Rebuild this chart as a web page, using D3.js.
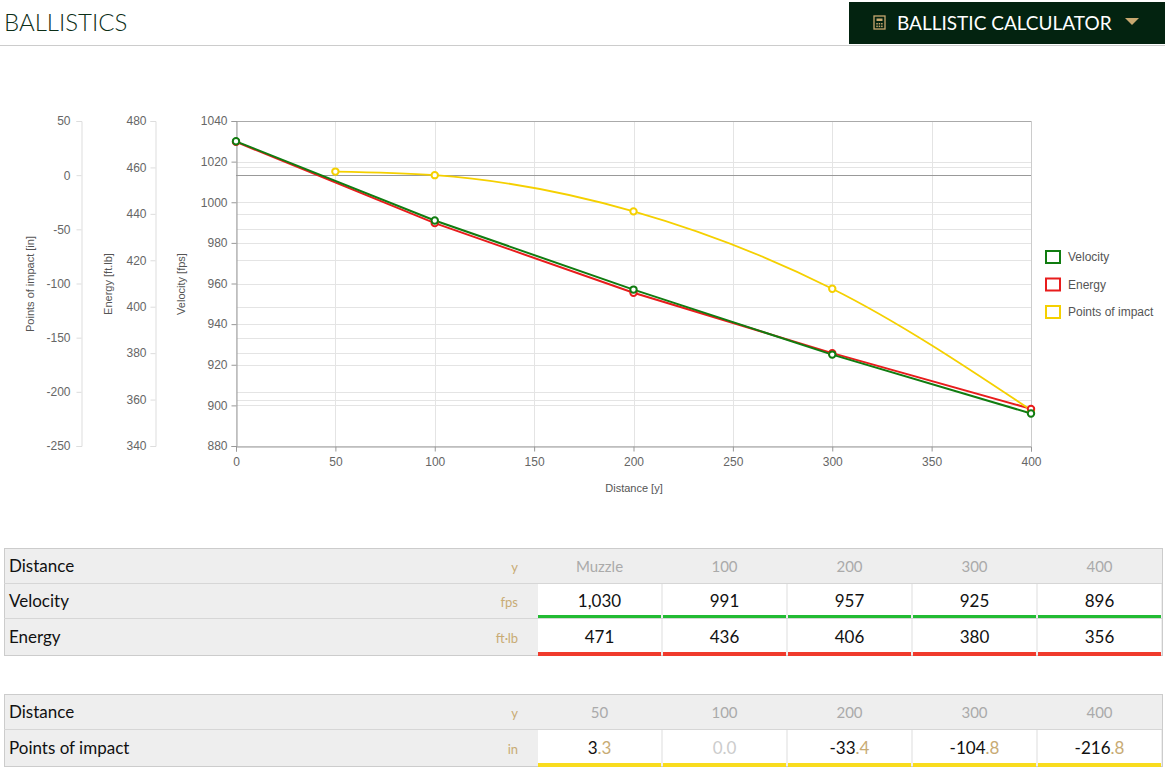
<!DOCTYPE html>
<html><head><meta charset="utf-8">
<script src="https://cdn.jsdelivr.net/npm/d3@7"></script>
<style>
body{margin:0;width:1165px;height:771px;overflow:hidden;background:#fff;font-family:Lato,"Open Sans",sans-serif;}
svg{position:absolute;left:0;top:0}
</style></head><body>
<svg id="c" width="1165" height="771"></svg>
<script>
const distances=[0,100,200,300,400];
const velocity=[1030,991,957,925,896];
const energy=[471,436,406,380,356];
const poiDistances=[50,100,200,300,400];
const poi=[3.3,0.0,-33.4,-104.8,-216.8];
const tableHeaders1=["Muzzle","100","200","300","400"];
const velocityText=["1,030","991","957","925","896"];
const energyText=["471","436","406","380","356"];
const tableHeaders2=["50","100","200","300","400"];
const poiText=[["3",".3"],["0.0",""],["-33",".4"],["-104",".8"],["-216",".8"]];

const svg=d3.select("#c");
// header
svg.append("text").attr("x",4).attr("y",31).text("BALLISTICS").attr("font-size",24).attr("font-weight",300).attr("fill","#0c2e17").attr("font-family","Lato");
svg.append("line").attr("x1",0).attr("x2",1165).attr("y1",45.5).attr("y2",45.5).attr("stroke","#ccc");
svg.append("rect").attr("x",849).attr("y",2).attr("width",316).attr("height",42).attr("fill","#032310");
const ic=svg.append("g").attr("transform","translate(874,16)");
ic.append("rect").attr("width",11).attr("height",13).attr("fill","none").attr("stroke","#c8a870").attr("stroke-width",1.3);
ic.append("rect").attr("x",2.5).attr("y",2.5).attr("width",6).attr("height",2.5).attr("fill","#c8a870");
for(let r=0;r<2;r++)for(let c=0;c<3;c++)ic.append("rect").attr("x",2.3+c*2.4).attr("y",7+r*2.6).attr("width",1.5).attr("height",1.5).attr("fill","#c8a870");
svg.append("text").attr("x",897).attr("y",30).text("BALLISTIC CALCULATOR").attr("font-size",19).attr("fill","#fff").attr("font-family","Lato");
svg.append("path").attr("d","M1125,18h14l-7,7z").attr("fill","#c8a870");

// chart
const x=d3.scaleLinear().domain([0,400]).range([236,1031]);
const yV=d3.scaleLinear().domain([880,1040]).range([446,121]);
const yE=d3.scaleLinear().domain([340,480]).range([446,121]);
const yP=d3.scaleLinear().domain([-250,50]).range([446,121]);
const fmt=d=>String(d);
const g=svg.append("g");
const grid=g.append("g");
const gl=(y)=>grid.append("line").attr("x1",236).attr("x2",1031).attr("y1",Math.round(y)+.5).attr("y2",Math.round(y)+.5).attr("stroke","#e4e4e4");
yV.ticks(8).forEach(v=>gl(yV(v)));
yE.ticks(7).forEach(v=>gl(yE(v)));
yP.ticks(6).forEach(v=>{if(v!==0)gl(yP(v));});
x.ticks(8).forEach(v=>grid.append("line").attr("x1",Math.round(x(v))+.5).attr("x2",Math.round(x(v))+.5).attr("y1",121).attr("y2",446).attr("stroke","#e4e4e4"));
grid.append("line").attr("x1",236).attr("x2",1031).attr("y1",Math.round(yP(0))+.5).attr("y2",Math.round(yP(0))+.5).attr("stroke","#999");
grid.append("line").attr("x1",236).attr("x2",1031).attr("y1",121.5).attr("y2",121.5).attr("stroke","#aaa");
grid.append("line").attr("x1",1031.5).attr("x2",1031.5).attr("y1",121).attr("y2",446).attr("stroke","#ccc");

function styleAxis(a,col){a.selectAll("text").attr("fill","#666").attr("font-size",12).attr("font-family","Liberation Sans, Arial");a.select(".domain").attr("stroke",col);a.selectAll(".tick line").attr("stroke",col);}
const ax=g.append("g").attr("transform","translate(0,446.5)").call(d3.axisBottom(x).ticks(8).tickFormat(fmt).tickSize(5).tickPadding(6));
styleAxis(ax,"#999");
const av=g.append("g").attr("transform","translate(236.5,0)").call(d3.axisLeft(yV).ticks(8).tickFormat(fmt).tickSize(5).tickPadding(4));
styleAxis(av,"#999");
const ae=g.append("g").attr("transform","translate(155.5,0)").call(d3.axisLeft(yE).ticks(7).tickFormat(fmt).tickSize(5).tickPadding(4));
styleAxis(ae,"#ddd");
const ap=g.append("g").attr("transform","translate(81.5,0)").call(d3.axisLeft(yP).ticks(6).tickFormat(fmt).tickSize(5).tickPadding(6));
styleAxis(ap,"#ddd");
const title=(t,xx,yy,rot)=>g.append("text").attr("transform",`translate(${xx},${yy})`+(rot?" rotate(-90)":"")).attr("text-anchor","middle").attr("font-size",11).attr("fill","#555").attr("font-family","Liberation Sans, Arial").text(t);
title("Points of impact [in]",34,284,true);
title("Energy [ft.lb]",112,284,true);
title("Velocity [fps]",185,284,true);
title("Distance [y]",634,492,false);

const plot=g.append("g");
const lin=(ys,yS)=>d3.line().x((d,i)=>x(distances[i])).y(d=>yS(d));
plot.append("path").datum(energy).attr("d",lin(energy,yE)).attr("fill","none").attr("stroke","#e81c1c").attr("stroke-width",2);
plot.append("path").datum(velocity).attr("d",lin(velocity,yV)).attr("fill","none").attr("stroke","#107c10").attr("stroke-width",2);
plot.append("path").datum(poi).attr("d",d3.line().curve(d3.curveMonotoneX).x((d,i)=>x(poiDistances[i])).y(d=>yP(d))).attr("fill","none").attr("stroke","#f5d000").attr("stroke-width",1.8);
const dots=(arr,xs,yS,col)=>plot.selectAll(null).data(arr).enter().append("circle").attr("cx",(d,i)=>x(xs[i])).attr("cy",d=>yS(d)).attr("r",3.2).attr("fill","#fff").attr("stroke",col).attr("stroke-width",2);
dots(poi,poiDistances,yP,"#f5d000");
dots(energy,distances,yE,"#e81c1c");
dots(velocity,distances,yV,"#107c10");

const leg=[["Velocity","#107c10"],["Energy","#e81c1c"],["Points of impact","#f5d000"]];
leg.forEach((l,i)=>{const yy=257+i*27.5;
 svg.append("rect").attr("x",1046).attr("y",yy-6).attr("width",14).attr("height",12).attr("fill","#fff").attr("stroke",l[1]).attr("stroke-width",2);
 svg.append("text").attr("x",1068).attr("y",yy+4).text(l[0]).attr("font-size",12).attr("fill","#555").attr("font-family","Liberation Sans, Arial");});

// tables
const cx=[537,662,787,912,1037,1162];
function table(y0,rows){
 const tot=rows.reduce((s,r)=>s+r.h,0);
 svg.append("rect").attr("x",4.5).attr("y",y0+.5).attr("width",1158).attr("height",tot).attr("fill","#eee").attr("stroke","#ccc");
 let y=y0;
 rows.forEach((r,ri)=>{
  if(ri>0)svg.append("line").attr("x1",4).attr("x2",1162).attr("y1",y+.5).attr("y2",y+.5).attr("stroke","#d6d6d6");
  svg.append("text").attr("x",9).attr("y",y+r.h/2+6).text(r.label).attr("font-size",17).attr("fill","#111");
  svg.append("text").attr("x",518).attr("y",y+r.h/2+6).attr("text-anchor","end").text(r.unit).attr("font-size",13).attr("fill","#c8ab74");
  r.vals.forEach((v,i)=>{
   const mx=(cx[i]+cx[i+1])/2;
   if(r.white){svg.append("rect").attr("x",cx[i]+1).attr("y",y+1).attr("width",cx[i+1]-cx[i]-2).attr("height",r.h-1).attr("fill","#fff");}
   if(r.bar)svg.append("rect").attr("x",cx[i]+1).attr("y",y+r.h-3).attr("width",cx[i+1]-cx[i]-2).attr("height",4).attr("fill",r.bar);
   const t=svg.append("text").attr("x",mx).attr("y",y+r.h/2+6).attr("text-anchor","middle").attr("font-size",r.head?15:17);
   if(Array.isArray(v)){
     if(v[0]==="0.0")t.append("tspan").text(v[0]).attr("fill","#ccc");
     else{t.append("tspan").text(v[0]).attr("fill","#111");t.append("tspan").text(v[1]).attr("fill","#c8ab74");}
   } else t.text(v).attr("fill",r.head?"#aaa":"#111");
  });
  y+=r.h;
 });
}
table(548,[{label:"Distance",unit:"y",vals:tableHeaders1,h:35,head:true},
 {label:"Velocity",unit:"fps",vals:velocityText,h:35,white:true,bar:"#22bb33"},
 {label:"Energy",unit:"ft·lb",vals:energyText,h:37,white:true,bar:"#f03a2c"}]);
table(694,[{label:"Distance",unit:"y",vals:tableHeaders2,h:35,head:true},
 {label:"Points of impact",unit:"in",vals:poiText,h:37,white:true,bar:"#f9dc1e"}]);
</script></body></html>
